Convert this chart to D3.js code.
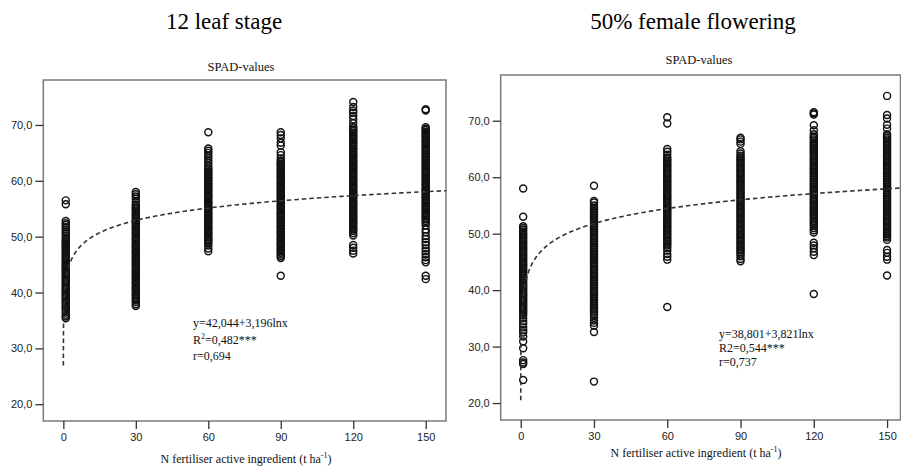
<!DOCTYPE html>
<html>
<head>
<meta charset="utf-8">
<script src="https://cdn.jsdelivr.net/npm/d3@7"></script>
<style>
  html, body { margin: 0; padding: 0; background: #fff; }
  svg { display: block; }
</style>
</head>
<body>
<svg id="chart" width="901" height="466"></svg>
<script>
// ---------- data ----------
const doses = [0, 30, 60, 90, 120, 150];          // N rate categories (x tick labels)
const xTicks = [0, 30, 60, 90, 120, 150];
const yTicks = [20, 30, 40, 50, 60, 70];
const panelTitles = ["12 leaf stage", "50% female flowering"];
const subTitle = "SPAD-values";
const xAxisTitle = "N fertiliser active ingredient (t ha";

// 12 leaf stage SPAD values per dose
const leaf0 = [56.5,55.8,52.8,52.4,52.1,51.7,51.3,50.9,50.6,50.2,49.8,49.5,49.2,49.0,48.7,48.4,48.2,47.9,47.6,47.3,47.1,46.8,46.5,46.2,46.0,45.7,45.4,45.1,44.9,44.6,44.3,44.0,43.8,43.5,43.2,42.9,42.7,42.4,42.1,41.8,41.6,41.3,41.0,40.7,40.5,40.2,39.9,39.6,39.4,39.1,38.8,38.5,38.3,38.0,37.7,37.4,37.1,36.8,36.4,36.0,35.7,35.4];
const leaf30 = [58.0,57.6,57.2,56.8,56.2,55.7,55.4,55.1,54.9,54.6,54.3,54.0,53.8,53.5,53.2,52.9,52.7,52.4,52.1,51.8,51.6,51.3,51.0,50.7,50.5,50.2,49.9,49.6,49.4,49.1,48.8,48.5,48.3,48.0,47.7,47.4,47.2,46.9,46.6,46.3,46.1,45.8,45.5,45.2,45.0,44.7,44.4,44.1,43.9,43.6,43.3,43.0,42.8,42.5,42.2,41.9,41.7,41.4,41.1,40.8,40.6,40.3,40.0,39.7,39.5,39.2,38.9,38.6,38.3,37.9,37.6];
const leaf60 = [68.7,65.8,65.4,65.0,64.5,64.1,63.6,63.2,62.7,62.3,62.0,61.7,61.5,61.2,60.9,60.6,60.4,60.1,59.8,59.5,59.3,59.0,58.7,58.4,58.2,57.9,57.6,57.3,57.1,56.8,56.5,56.2,56.0,55.7,55.4,55.1,54.9,54.6,54.3,54.0,53.8,53.5,53.2,52.9,52.7,52.4,52.1,51.8,51.6,51.3,51.0,50.7,50.5,50.2,49.9,49.6,49.4,49.1,48.8,48.4,47.9,47.4];
const leaf90 = [68.7,68.2,67.6,66.8,66.3,65.1,64.6,64.0,63.6,63.3,63.0,62.8,62.5,62.2,61.9,61.7,61.4,61.1,60.8,60.6,60.3,60.0,59.7,59.5,59.2,58.9,58.6,58.4,58.1,57.8,57.5,57.3,57.0,56.7,56.4,56.2,55.9,55.6,55.3,55.1,54.8,54.5,54.2,54.0,53.7,53.4,53.1,52.9,52.6,52.3,52.0,51.8,51.5,51.2,50.9,50.7,50.4,50.1,49.8,49.6,49.3,49.0,48.7,48.5,48.2,47.9,47.6,47.4,47.1,46.8,46.5,46.2,43.0];
const leaf120 = [74.1,73.2,72.6,72.2,71.6,71.0,70.3,69.7,69.4,69.1,68.9,68.6,68.3,68.0,67.8,67.5,67.2,66.9,66.7,66.4,66.1,65.8,65.6,65.3,65.0,64.7,64.5,64.2,63.9,63.6,63.4,63.1,62.8,62.5,62.3,62.0,61.7,61.4,61.2,60.9,60.6,60.3,60.1,59.8,59.5,59.2,59.0,58.7,58.4,58.1,57.9,57.6,57.3,57.0,56.8,56.5,56.2,55.9,55.7,55.4,55.1,54.8,54.6,54.3,54.0,53.7,53.5,53.2,52.9,52.6,52.4,52.1,51.8,51.5,51.3,51.0,50.6,50.2,48.5,48.0,47.5,47.0];
const leaf150 = [72.8,72.6,69.6,69.3,69.1,68.8,68.5,68.2,68.0,67.7,67.4,67.1,66.9,66.6,66.3,66.0,65.8,65.5,65.2,64.9,64.7,64.4,64.1,63.8,63.6,63.3,63.0,62.7,62.5,62.2,61.9,61.6,61.4,61.1,60.8,60.5,60.3,60.0,59.7,59.4,59.2,58.9,58.6,58.3,58.1,57.8,57.5,57.2,57.0,56.7,56.4,56.1,55.9,55.6,55.3,55.0,54.8,54.5,54.2,53.9,53.7,53.4,53.1,52.8,52.5,52.0,51.3,50.8,50.1,49.6,49.0,48.5,47.9,47.4,46.9,46.3,45.8,45.4,43.0,42.4];

// 50% female flowering SPAD values per dose
const flow0 = [58.0,53.0,51.3,51.0,50.7,50.4,50.0,49.7,49.4,49.1,48.8,48.5,48.2,47.9,47.6,47.3,47.0,46.7,46.4,46.1,45.8,45.5,45.2,44.9,44.6,44.3,44.0,43.7,43.4,43.1,42.8,42.5,42.2,41.9,41.6,41.3,41.0,40.7,40.4,40.1,39.8,39.5,39.2,38.9,38.6,38.3,38.0,37.7,37.4,37.1,36.8,36.5,36.2,35.9,35.5,35.0,34.5,34.0,33.4,32.9,32.5,31.8,30.9,29.7,27.6,27.2,26.9,24.1];
const flow30 = [58.5,55.8,55.5,55.0,54.6,54.3,54.0,53.7,53.4,53.1,52.8,52.5,52.2,51.9,51.6,51.3,51.0,50.7,50.4,50.1,49.8,49.5,49.2,48.9,48.6,48.3,48.0,47.7,47.4,47.1,46.8,46.5,46.2,45.9,45.6,45.3,45.0,44.7,44.4,44.1,43.8,43.5,43.2,42.9,42.6,42.3,42.0,41.7,41.4,41.1,40.8,40.5,40.2,39.9,39.6,39.3,39.0,38.7,38.4,38.1,37.8,37.5,37.2,36.9,36.6,36.3,36.0,35.6,35.1,34.6,34.2,33.7,32.6,23.8];
const flow60 = [70.6,69.5,65.0,64.5,64.0,63.5,63.2,62.9,62.6,62.3,62.0,61.7,61.4,61.1,60.8,60.5,60.2,59.9,59.6,59.3,59.0,58.7,58.4,58.1,57.8,57.5,57.2,56.9,56.6,56.3,56.0,55.7,55.4,55.1,54.8,54.5,54.2,53.9,53.6,53.3,53.0,52.7,52.4,52.1,51.8,51.5,51.2,50.9,50.6,50.3,50.0,49.7,49.4,49.1,48.8,48.5,48.2,47.9,47.5,47.0,46.4,45.9,45.4,37.0];
const flow90 = [67.0,66.7,66.3,65.9,64.6,64.2,63.8,63.5,63.2,62.9,62.6,62.3,62.0,61.7,61.4,61.1,60.8,60.5,60.2,59.9,59.6,59.3,59.0,58.7,58.4,58.1,57.8,57.5,57.2,56.9,56.6,56.3,56.0,55.7,55.4,55.1,54.8,54.5,54.2,53.9,53.6,53.3,53.0,52.7,52.4,52.1,51.8,51.5,51.2,50.9,50.6,50.3,50.0,49.7,49.4,49.1,48.8,48.5,48.2,47.9,47.6,47.3,47.0,46.7,46.4,46.0,45.5,45.1];
const flow120 = [71.5,71.3,71.1,69.2,68.3,67.6,67.2,67.0,66.7,66.4,66.1,65.8,65.5,65.2,64.9,64.6,64.3,64.0,63.7,63.4,63.1,62.8,62.5,62.2,61.9,61.6,61.3,61.0,60.7,60.4,60.1,59.8,59.5,59.2,58.9,58.6,58.3,58.0,57.7,57.4,57.1,56.8,56.5,56.2,55.9,55.6,55.3,55.0,54.7,54.4,54.1,53.8,53.5,53.2,52.9,52.6,52.3,52.0,51.7,51.4,51.0,50.6,50.2,48.4,47.9,47.4,46.8,46.2,39.3];
const flow150 = [74.4,71.0,70.4,69.3,68.6,67.6,67.3,67.0,66.7,66.4,66.1,65.8,65.5,65.2,64.9,64.6,64.3,64.0,63.7,63.4,63.1,62.8,62.5,62.2,61.9,61.6,61.3,61.0,60.7,60.4,60.1,59.8,59.5,59.2,58.9,58.6,58.3,58.0,57.7,57.4,57.1,56.8,56.5,56.2,55.9,55.6,55.3,55.0,54.7,54.4,54.1,53.8,53.5,53.2,52.9,52.6,52.3,52.0,51.7,51.4,51.1,50.8,50.5,50.2,49.9,49.6,49.3,48.9,47.1,46.6,45.9,45.4,42.6];

// logarithmic fits y = a + b ln x
const fitA = [42.044, 38.801];
const fitB = [3.196, 3.821];
const eqLines = [
  ["y=42,044+3,196lnx", "R2", "=0,482***", "r=0,694"],
  ["y=38,801+3,821lnx", "R2=0,544***", "r=0,737"]
];

// ---------- layout ----------
const svg = d3.select("#chart");
const serif = "'Liberation Serif','Times New Roman',serif";
const sans = "'Liberation Sans',Arial,sans-serif";

const panels = [
  { series: [leaf0, leaf30, leaf60, leaf90, leaf120, leaf150],
    box: { x0: 43.3, x1: 446, y0: 80, y1: 421 },
    xDom: [-8.3, 158.4], yDom: [17, 78.05],
    titleX: 224, subX: 241, subY: 71, axisTitleX: 246, axisTitleY: 463,
    eqX: 193, eqY: [327, 344, 360], curveStart: 0.0088 },
  { series: [flow0, flow30, flow60, flow90, flow120, flow150],
    box: { x0: 500.7, x1: 900.5, y0: 75, y1: 420 },
    xDom: [-8.2, 155.5], yDom: [17, 78.1],
    titleX: 693, subX: 699, subY: 64, axisTitleX: 696, axisTitleY: 457,
    eqX: 719, eqY: [338, 352, 366], curveStart: 0.0083 }
];

panels.forEach((p, i) => {
  const b = p.box;
  const x = d3.scaleLinear().domain(p.xDom).range([b.x0, b.x1]);
  const y = d3.scaleLinear().domain(p.yDom).range([b.y1, b.y0]);
  const g = svg.append("g");

  // big panel title
  g.append("text").attr("x", p.titleX).attr("y", 29)
    .attr("text-anchor", "middle").attr("font-family", serif)
    .attr("font-size", 23).attr("fill", "#000").text(panelTitles[i]);

  // subtitle
  g.append("text").attr("x", p.subX).attr("y", p.subY)
    .attr("text-anchor", "middle").attr("font-family", serif)
    .attr("font-size", 12.5).attr("fill", "#111").text(subTitle);

  // frame
  g.append("rect").attr("x", b.x0).attr("y", b.y0)
    .attr("width", b.x1 - b.x0).attr("height", b.y1 - b.y0)
    .attr("fill", "none").attr("stroke", "#7a7a7a").attr("stroke-width", 1.5);

  // y axis
  const yAxis = d3.axisLeft(y).tickValues(yTicks).tickSizeOuter(0).tickSize(8).tickPadding(3)
    .tickFormat(d => d3.format(".1f")(d).replace(".", ","));
  const ya = g.append("g").attr("transform", `translate(${b.x0},0)`).call(yAxis);
  ya.select(".domain").remove();
  ya.selectAll("line").attr("stroke", "#333").attr("stroke-width", 1.3);
  ya.selectAll("text").attr("font-family", sans).attr("font-size", 11).attr("fill", "#222");

  // x axis
  const xAxis = d3.axisBottom(x).tickValues(xTicks).tickSizeOuter(0).tickSize(8).tickPadding(4)
    .tickFormat(d3.format("d"));
  const xa = g.append("g").attr("transform", `translate(0,${b.y1})`).call(xAxis);
  xa.select(".domain").remove();
  xa.selectAll("line").attr("stroke", "#333").attr("stroke-width", 1.3);
  xa.selectAll("text").attr("font-family", sans).attr("font-size", 11).attr("fill", "#222");

  // x axis title with superscript
  const at = g.append("text").attr("x", p.axisTitleX).attr("y", p.axisTitleY)
    .attr("text-anchor", "middle").attr("font-family", serif)
    .attr("font-size", 12).attr("fill", "#111");
  at.append("tspan").text(xAxisTitle);
  at.append("tspan").attr("dy", -5).attr("font-size", 8).text("-1");
  at.append("tspan").attr("dy", 5).text(")");

  // points (zero dose plotted at x = 1, as ln x requires)
  const pts = [];
  p.series.forEach((vals, k) => {
    vals.forEach(v => pts.push({ dose: doses[k] === 0 ? 1 : doses[k], v }));
  });
  g.append("g").selectAll("circle").data(pts).join("circle")
    .attr("cx", d => x(d.dose)).attr("cy", d => y(d.v)).attr("r", 3.5)
    .attr("fill", "none").attr("stroke", "#111").attr("stroke-width", 1.45);

  // fitted log curve
  const xs = [];
  const lo = Math.log(p.curveStart), hi = Math.log(p.xDom[1]);
  for (let t = 0; t <= 400; t++) xs.push(Math.exp(lo + (hi - lo) * t / 400));
  const line = d3.line().x(d => x(d)).y(d => y(fitA[i] + fitB[i] * Math.log(d)));
  g.append("path").datum(xs).attr("d", line)
    .attr("fill", "none").attr("stroke", "#333").attr("stroke-width", 1.6)
    .attr("stroke-dasharray", "4.5,3");

  // equation text
  const eq = g.append("g").attr("font-family", serif).attr("font-size", 12).attr("fill", "#111");
  if (i === 0) {
    eq.append("text").attr("x", p.eqX).attr("y", p.eqY[0]).text(eqLines[0][0]);
    const t2 = eq.append("text").attr("x", p.eqX).attr("y", p.eqY[1]);
    t2.append("tspan").text("R");
    t2.append("tspan").attr("dy", -5).attr("font-size", 8).text("2");
    t2.append("tspan").attr("dy", 5).text(eqLines[0][2]);
    eq.append("text").attr("x", p.eqX).attr("y", p.eqY[2]).text(eqLines[0][3]);
  } else {
    eqLines[1].forEach((s, j) => eq.append("text").attr("x", p.eqX).attr("y", p.eqY[j]).text(s));
  }
});
</script>
</body>
</html>
